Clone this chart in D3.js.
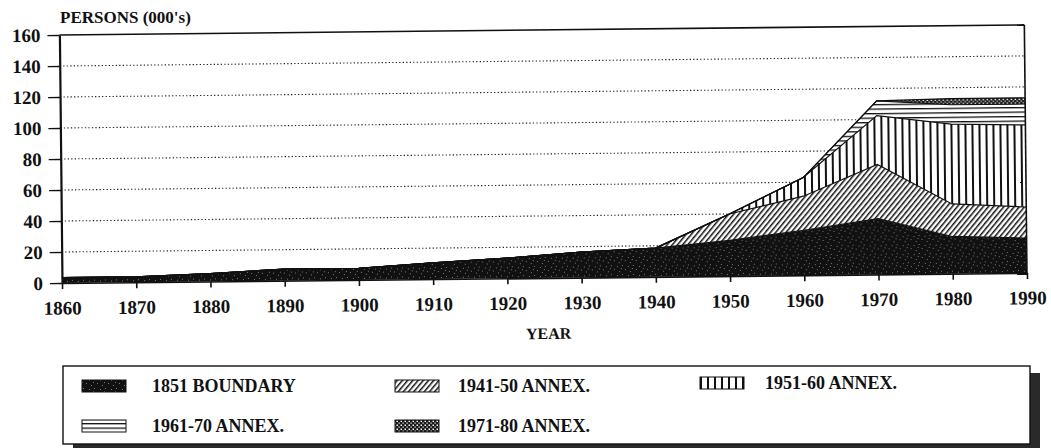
<!DOCTYPE html>
<html>
<head>
<meta charset="utf-8">
<script src="https://cdn.jsdelivr.net/npm/d3@7"></script>
<style>
  body { margin: 0; background: #fff; }
  svg { display: block; }
  text { font-family: "Liberation Serif", "Times New Roman", serif; font-weight: bold; fill: #111; }
</style>
</head>
<body>
<svg id="chart" width="1051" height="448"></svg>
<script>
// values (thousands of persons)
const years = [1860, 1870, 1880, 1890, 1900, 1910, 1920, 1930, 1940, 1950, 1960, 1970, 1980, 1990];
const boundary1851 = [3.5, 3.5, 5, 7.5, 7.5, 10.5, 13, 16.5, 18.5, 23, 29, 36, 24, 22.5];
const annex194150 = [0, 0, 0, 0, 0, 0, 0, 0, 0, 17, 22, 35, 21, 20];
const annex195160 = [0, 0, 0, 0, 0, 0, 0, 0, 0, 0, 12, 31.5, 51.5, 53];
const annex196170 = [0, 0, 0, 0, 0, 0, 0, 0, 0, 0, 0, 9.5, 12.5, 13.5];
const annex197180 = [0, 0, 0, 0, 0, 0, 0, 0, 0, 0, 0, 0, 4, 4];

const seriesNames = ["1851 BOUNDARY", "1941-50 ANNEX.", "1951-60 ANNEX.", "1961-70 ANNEX.", "1971-80 ANNEX."];
const seriesValues = [boundary1851, annex194150, annex195160, annex196170, annex197180];
const yTicks = [0, 20, 40, 60, 80, 100, 120, 140, 160];
const xTicks = years;

const svg = d3.select("#chart");
const mLeft = 62, mRight = 1027, mTop = 35, mBottom = 283;

const x = d3.scaleLinear().domain([1860, 1990]).range([mLeft, mRight]);
const y = d3.scaleLinear().domain([0, 160]).range([mBottom, mTop]);

// fill patterns
const defs = svg.append("defs");
const patIds = ["p-solid", "p-diag", "p-vert", "p-horiz", "p-mesh"];

const pSolid = defs.append("pattern").attr("id", "p-solid")
  .attr("patternUnits", "userSpaceOnUse").attr("width", 11).attr("height", 9);
pSolid.append("rect").attr("width", 11).attr("height", 9).attr("fill", "#111");
[[1, 2], [6, 1], [9, 5], [3, 7], [5, 4]].forEach(([a, b]) =>
  pSolid.append("rect").attr("x", a).attr("y", b).attr("width", 1).attr("height", 1).attr("fill", "#7a7a7a"));

const pDiag = defs.append("pattern").attr("id", "p-diag")
  .attr("patternUnits", "userSpaceOnUse").attr("width", 4).attr("height", 8)
  .attr("patternTransform", "rotate(40)");
pDiag.append("rect").attr("width", 4).attr("height", 8).attr("fill", "#fff");
pDiag.append("rect").attr("width", 1.5).attr("height", 8).attr("fill", "#111");

const pVert = defs.append("pattern").attr("id", "p-vert")
  .attr("patternUnits", "userSpaceOnUse").attr("width", 7).attr("height", 8);
pVert.append("rect").attr("width", 7).attr("height", 8).attr("fill", "#fff");
pVert.append("rect").attr("width", 2).attr("height", 8).attr("fill", "#111");

const pHoriz = defs.append("pattern").attr("id", "p-horiz")
  .attr("patternUnits", "userSpaceOnUse").attr("width", 8).attr("height", 4.5);
pHoriz.append("rect").attr("width", 8).attr("height", 4.5).attr("fill", "#fff");
pHoriz.append("rect").attr("width", 8).attr("height", 1.3).attr("fill", "#111");

const pMesh = defs.append("pattern").attr("id", "p-mesh")
  .attr("patternUnits", "userSpaceOnUse").attr("width", 4).attr("height", 4);
pMesh.append("rect").attr("width", 4).attr("height", 4).attr("fill", "#1a1a1a");
pMesh.append("rect").attr("x", 0.5).attr("y", 0.5).attr("width", 1.5).attr("height", 1.5).attr("fill", "#fff");
pMesh.append("rect").attr("x", 2.5).attr("y", 2.5).attr("width", 1.2).attr("height", 1.2).attr("fill", "#fff");

// the scan is tilted slightly, so the plot group is too
const plot = svg.append("g").attr("transform", `rotate(-0.6 ${mLeft} ${mBottom})`);

// gridlines
plot.append("g").selectAll("line")
  .data(yTicks.filter(d => d > 0 && d < 160))
  .join("line")
  .attr("x1", mLeft).attr("x2", mRight)
  .attr("y1", d => y(d)).attr("y2", d => y(d))
  .attr("stroke", "#222").attr("stroke-width", 1.1)
  .attr("stroke-dasharray", "1.3,2.2");

// stacked areas
const table = years.map((yr, i) => {
  const row = { year: yr };
  seriesNames.forEach((n, k) => { row[n] = seriesValues[k][i]; });
  return row;
});
const stacked = d3.stack().keys(seriesNames)(table);

const area = d3.area()
  .x(d => x(d.data.year))
  .y0(d => y(d[0]))
  .y1(d => y(d[1]));
const topLine = d3.line()
  .x(d => x(d.data.year))
  .y(d => y(d[1]));

plot.append("g").selectAll("path")
  .data(stacked)
  .join("path")
  .attr("d", area)
  .attr("fill", (d, i) => `url(#${patIds[i]})`);

plot.append("g").selectAll("path")
  .data(stacked)
  .join("path")
  .attr("d", topLine)
  .attr("fill", "none")
  .attr("stroke", "#111")
  .attr("stroke-width", 1.2);

// frame: top and right
plot.append("line").attr("x1", mLeft).attr("x2", mRight).attr("y1", mTop).attr("y2", mTop)
  .attr("stroke", "#111").attr("stroke-width", 1.6);
plot.append("line").attr("x1", mRight).attr("x2", mRight).attr("y1", mTop).attr("y2", mBottom)
  .attr("stroke", "#111").attr("stroke-width", 1.6);

// axes
const yAxis = plot.append("g")
  .attr("transform", `translate(${mLeft},0)`)
  .call(d3.axisLeft(y).tickValues(yTicks).tickSize(12).tickPadding(7).tickSizeOuter(0));
yAxis.select(".domain").attr("stroke", "#111").attr("stroke-width", 2.2);
yAxis.selectAll(".tick line").attr("stroke", "#111").attr("stroke-width", 1.4);
yAxis.selectAll(".tick text").style("font-size", "19px").attr("font-family", null);

const xAxis = plot.append("g")
  .attr("transform", `translate(0,${mBottom})`)
  .call(d3.axisBottom(x).tickValues(xTicks).tickFormat(d3.format("d")).tickSize(6).tickPadding(12).tickSizeOuter(0));
xAxis.select(".domain").attr("stroke", "#111").attr("stroke-width", 1.6);
xAxis.selectAll(".tick line").attr("stroke", "#111").attr("stroke-width", 1.6);
xAxis.selectAll(".tick text").style("font-size", "19px").attr("font-family", null);

plot.append("text")
  .attr("x", 548).attr("y", 344)
  .attr("text-anchor", "middle")
  .style("font-size", "16px")
  .text("YEAR");

svg.append("text")
  .attr("x", 60).attr("y", 23)
  .style("font-size", "17px")
  .text("PERSONS (000's)");

// legend
const legend = svg.append("g");
legend.append("rect")
  .attr("x", 73).attr("y", 373).attr("width", 967).attr("height", 80)
  .attr("fill", "#2a2a2a");
legend.append("rect")
  .attr("x", 63).attr("y", 366).attr("width", 967).attr("height", 78)
  .attr("fill", "#fff").attr("stroke", "#111").attr("stroke-width", 1.4);

const legendPos = [
  { sx: 82, tx: 152, cy: 386 },
  { sx: 395, tx: 458, cy: 386 },
  { sx: 700, tx: 765, cy: 383 },
  { sx: 82, tx: 152, cy: 426 },
  { sx: 395, tx: 458, cy: 426 }
];
const items = legend.selectAll("g.item")
  .data(seriesNames)
  .join("g")
  .attr("class", "item");
items.append("rect")
  .attr("x", (d, i) => legendPos[i].sx)
  .attr("y", (d, i) => legendPos[i].cy - 6)
  .attr("width", 44).attr("height", 12)
  .attr("fill", (d, i) => `url(#${patIds[i]})`)
  .attr("stroke", "#111").attr("stroke-width", 1);
items.append("text")
  .attr("x", (d, i) => legendPos[i].tx)
  .attr("y", (d, i) => legendPos[i].cy)
  .attr("dy", "0.35em")
  .style("font-size", "18px")
  .text(d => d);
</script>
</body>
</html>
